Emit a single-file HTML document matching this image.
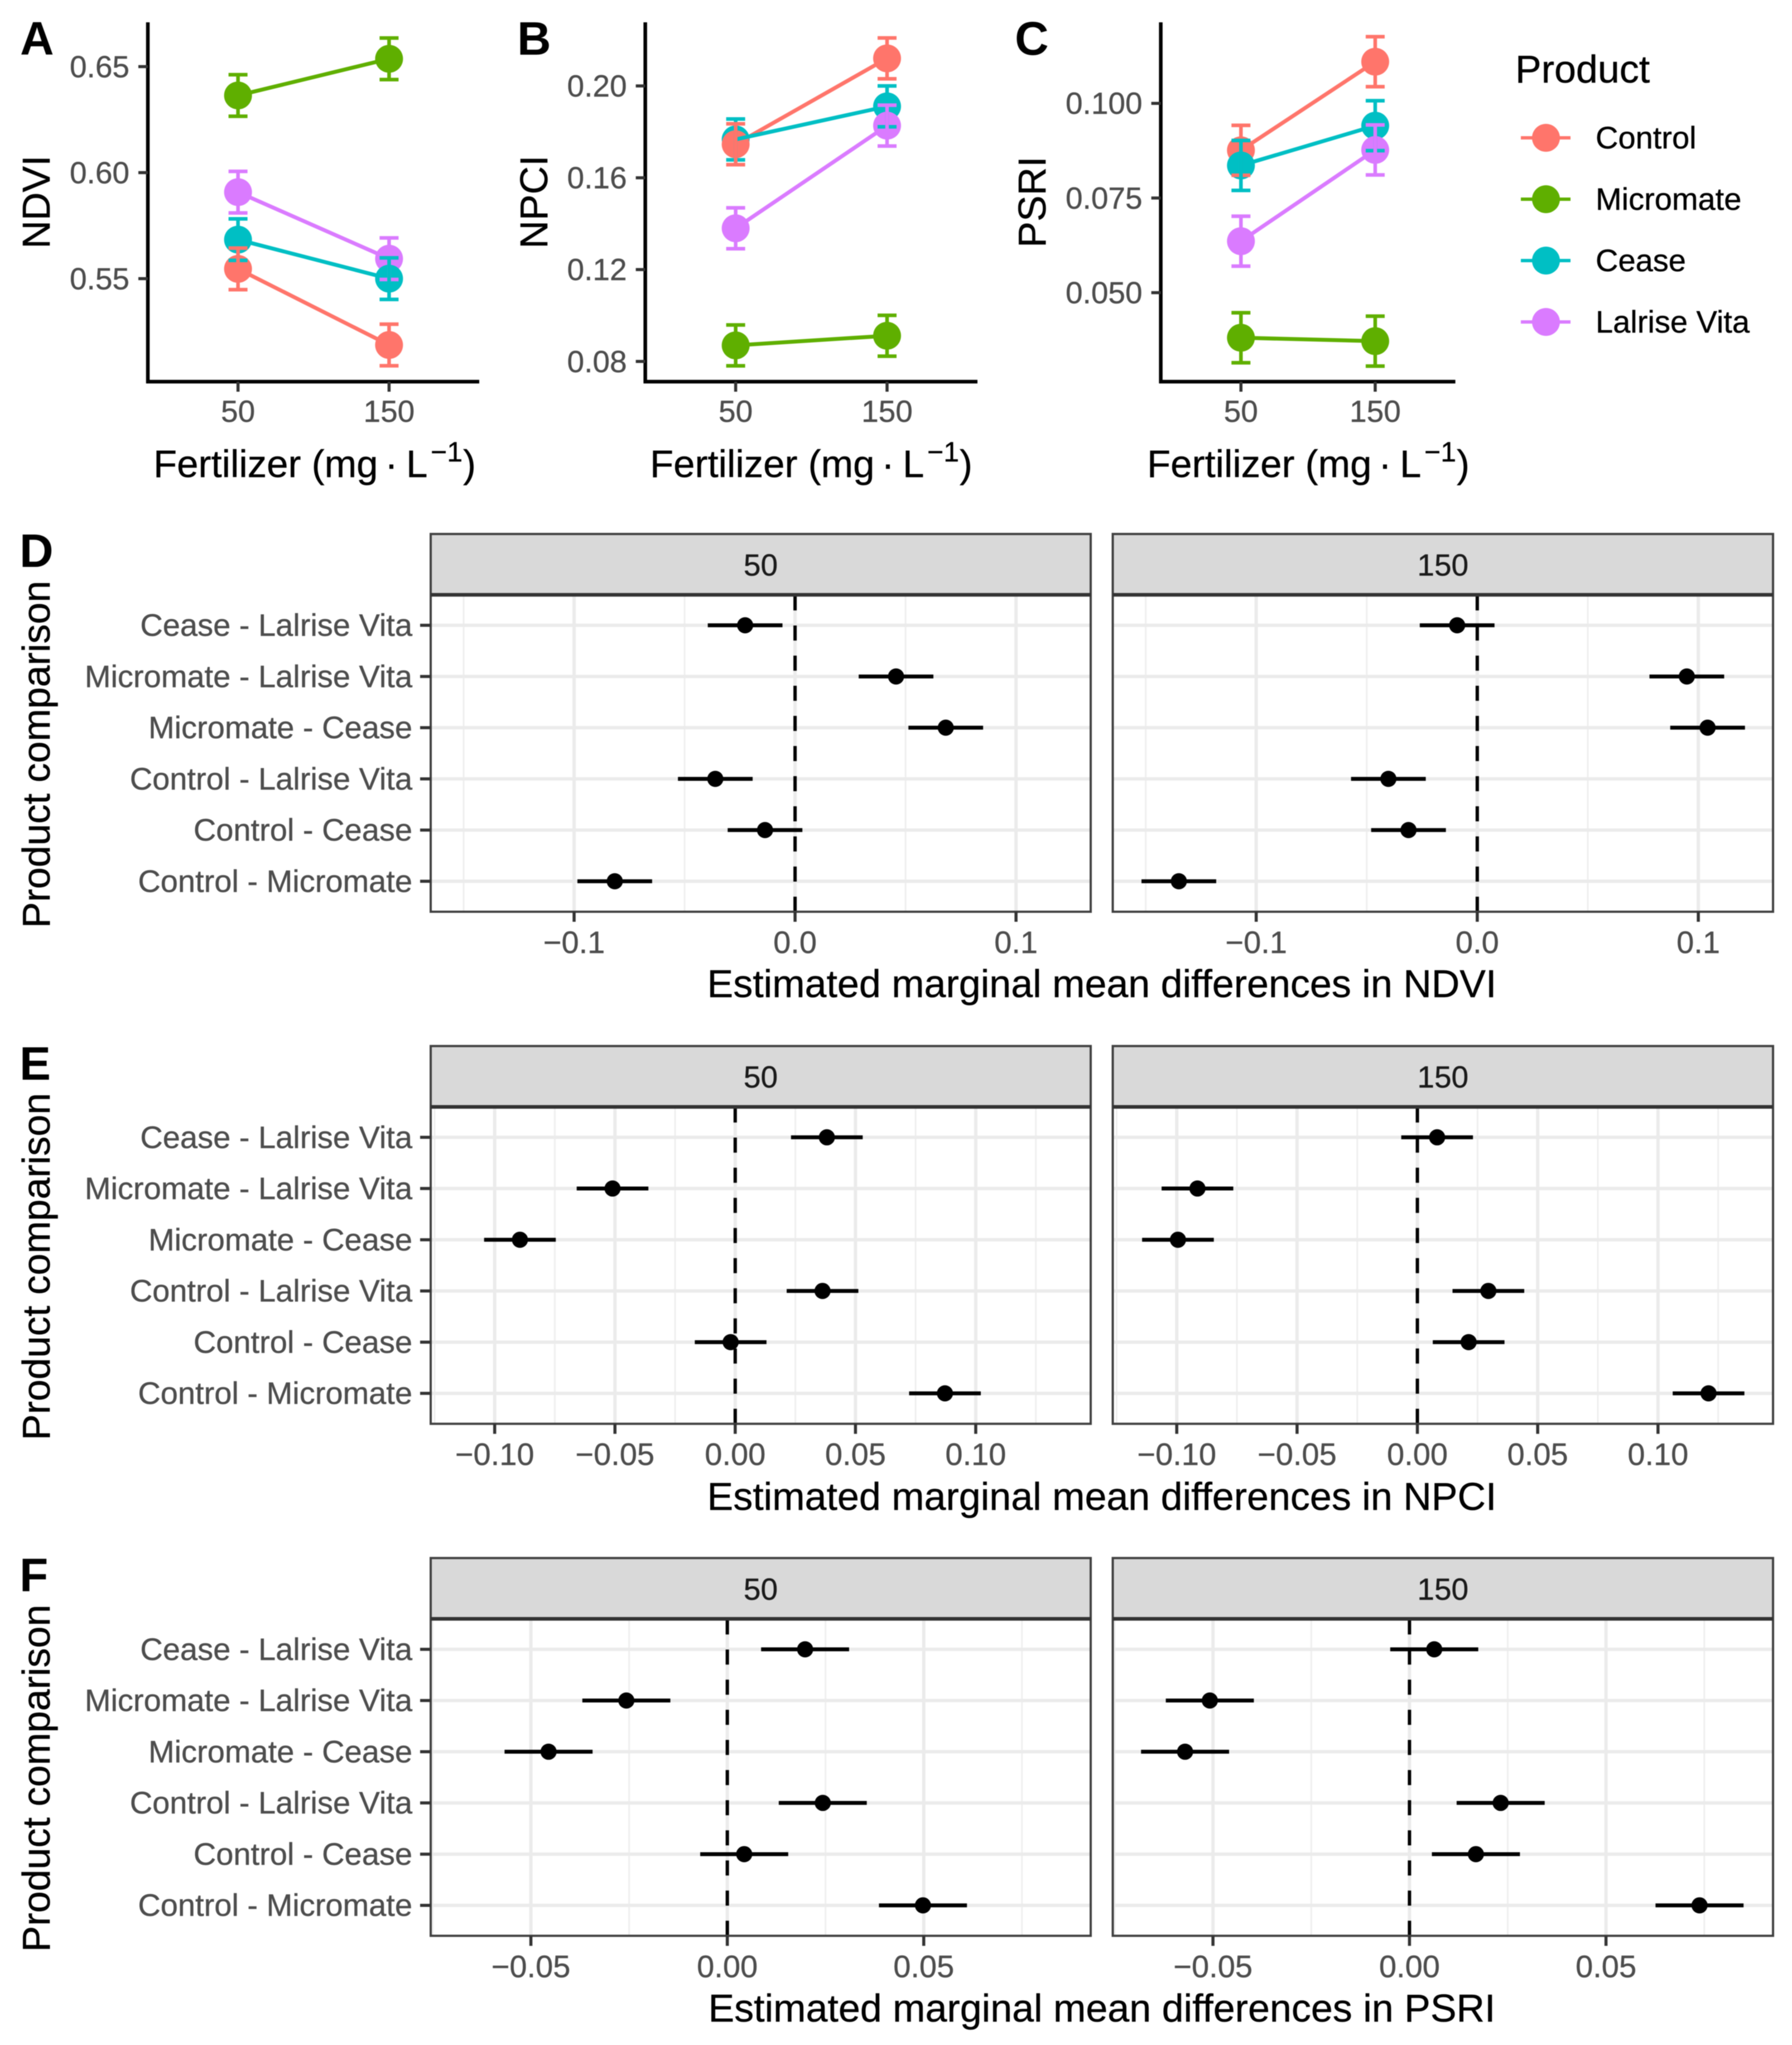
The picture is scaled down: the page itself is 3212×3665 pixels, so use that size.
<!DOCTYPE html>
<html lang="en">
<head>
<meta charset="utf-8">
<title>Fertilizer and product effects on NDVI, NPCI and PSRI</title>
<style>
html,body{margin:0;padding:0;background:#fff;}
svg{display:block;filter:blur(0.7px);}
text{font-family:"Liberation Sans",Arial,sans-serif;stroke-width:0.5px;}
.title{font-size:70px;fill:#000;stroke:#000;}
.fert{font-size:69px;fill:#000;stroke:#000;}
.letter{font-size:84px;font-weight:bold;fill:#000;}
.tick{font-size:56px;fill:#4d4d4d;stroke:#4d4d4d;}
.tick-top{font-size:55px;fill:#4d4d4d;stroke:#4d4d4d;}
.legend{font-size:56px;fill:#000;stroke:#000;}
.strip{font-size:55px;fill:#1a1a1a;stroke:#1a1a1a;}
</style>
</head>
<body>
<svg id="figure" xmlns="http://www.w3.org/2000/svg" width="3212" height="3665" viewBox="0 0 3212 3665">
<rect x="0" y="0" width="3212" height="3665" fill="#fff"/>

<text class="letter" x="36" y="98">A</text>
<text class="letter" x="927" y="98">B</text>
<text class="letter" x="1819" y="98">C</text>
<text class="letter" x="35" y="1016">D</text>
<text class="letter" x="35" y="1935">E</text>
<text class="letter" x="35" y="2852">F</text>

<text class="title" text-anchor="middle" transform="translate(89 362) rotate(-90)">NDVI</text>
<text class="title" text-anchor="middle" transform="translate(981 362) rotate(-90)">NPCI</text>
<text class="title" text-anchor="middle" transform="translate(1874 362) rotate(-90)">PSRI</text>

<text class="fert" x="275" y="855">Fertilizer (mg<tspan x="690">·</tspan><tspan x="728">L</tspan><tspan x="772" font-size="50" dy="-28">−1</tspan><tspan x="830" dy="28">)</tspan></text>
<text class="fert" x="1165" y="855">Fertilizer (mg<tspan x="1580">·</tspan><tspan x="1618">L</tspan><tspan x="1662" font-size="50" dy="-28">−1</tspan><tspan x="1720" dy="28">)</tspan></text>
<text class="fert" x="2056" y="855">Fertilizer (mg<tspan x="2471">·</tspan><tspan x="2509">L</tspan><tspan x="2553" font-size="50" dy="-28">−1</tspan><tspan x="2611" dy="28">)</tspan></text>

<text class="title" text-anchor="middle" transform="translate(89 1352) rotate(-90)">Product comparison</text>
<text class="title" text-anchor="middle" transform="translate(89 2270) rotate(-90)">Product comparison</text>
<text class="title" text-anchor="middle" transform="translate(89 3187) rotate(-90)">Product comparison</text>

<text class="title" text-anchor="middle" x="1975" y="1787">Estimated marginal mean differences in NDVI</text>
<text class="title" text-anchor="middle" x="1975" y="2706">Estimated marginal mean differences in NPCI</text>
<text class="title" text-anchor="middle" x="1975" y="3623">Estimated marginal mean differences in PSRI</text>

<g id="legend">
  <text class="legend" x="2716" y="148" style="font-size:70px">Product</text>
  <g>
    <line x1="2726" x2="2815" y1="247" y2="247" stroke="#FF756B" stroke-width="6"/>
    <circle cx="2771" cy="247" r="25" fill="#FF756B"/>
    <text class="legend" x="2860" y="266">Control</text>
  </g>
  <g>
    <line x1="2726" x2="2815" y1="357" y2="357" stroke="#5FAF00" stroke-width="6"/>
    <circle cx="2771" cy="357" r="25" fill="#5FAF00"/>
    <text class="legend" x="2860" y="376">Micromate</text>
  </g>
  <g>
    <line x1="2726" x2="2815" y1="467" y2="467" stroke="#00BFC4" stroke-width="6"/>
    <circle cx="2771" cy="467" r="25" fill="#00BFC4"/>
    <text class="legend" x="2860" y="486">Cease</text>
  </g>
  <g>
    <line x1="2726" x2="2815" y1="577" y2="577" stroke="#DA7BFF" stroke-width="6"/>
    <circle cx="2771" cy="577" r="25" fill="#DA7BFF"/>
    <text class="legend" x="2860" y="596">Lalrise Vita</text>
  </g>
</g>
<g id="charts"></g>
</svg>

<script>
// ---------- Top row data: interaction plots ----------
const fertilizerLevels = ["50", "150"];
const productNames = ["Control", "Micromate", "Cease", "Lalrise Vita"];
const productColors = ["#FF756B", "#5FAF00", "#00BFC4", "#DA7BFF"];

const ndviControl = [0.5546, 0.5187];
const ndviMicromate = [0.6364, 0.6537];
const ndviCease = [0.5684, 0.5500];
const ndviLalrise = [0.5908, 0.5594];
const ndviHalfCI = 0.0098;
const ndviTicks = [0.55, 0.60, 0.65];
const ndviTickLabels = ["0.55", "0.60", "0.65"];
const ndviDomain = [0.5014, 0.6709];

const npciControl = [0.1746, 0.2120];
const npciMicromate = [0.0870, 0.0912];
const npciCease = [0.1767, 0.1911];
const npciLalrise = [0.1380, 0.1827];
const npciHalfCI = 0.0089;
const npciTicks = [0.08, 0.12, 0.16, 0.20];
const npciTickLabels = ["0.08", "0.12", "0.16", "0.20"];
const npciDomain = [0.0712, 0.2277];

const psriControl = [0.0876, 0.1110];
const psriMicromate = [0.0381, 0.0372];
const psriCease = [0.0836, 0.0941];
const psriLalrise = [0.0636, 0.0877];
const psriHalfCI = 0.0066;
const psriTicks = [0.050, 0.075, 0.100];
const psriTickLabels = ["0.050", "0.075", "0.100"];
const psriDomain = [0.0265, 0.1214];

const fertilizerDomain = [-0.597, 1.597];

// ---------- Forest plot data: product comparisons (top row first) ----------
const comparisons = ["Cease - Lalrise Vita", "Micromate - Lalrise Vita", "Micromate - Cease", "Control - Lalrise Vita", "Control - Cease", "Control - Micromate"];

const ndviDiff50 = [-0.0226, 0.0457, 0.0682, -0.0361, -0.0136, -0.0816];
const ndviDiff150 = [-0.0091, 0.0948, 0.1042, -0.0402, -0.0311, -0.1350];
const ndviDiffHalfCI = 0.0169;
const ndviDiffTicks = [-0.1, 0, 0.1];
const ndviDiffTickLabels = ["−0.1", "0.0", "0.1"];
const ndviDiffDomain = [-0.1649, 0.1338];

const npciDiff50 = [0.0381, -0.0510, -0.0895, 0.0363, -0.0019, 0.0872];
const npciDiff150 = [0.0082, -0.0914, -0.0995, 0.0295, 0.0213, 0.1210];
const npciDiffHalfCI = 0.0149;
const npciDiffTicks = [-0.10, -0.05, 0, 0.05, 0.10];
const npciDiffTickLabels = ["−0.10", "−0.05", "0.00", "0.05", "0.10"];
const npciDiffDomain = [-0.1266, 0.1478];

const psriDiff50 = [0.0198, -0.0257, -0.0455, 0.0243, 0.0043, 0.0498];
const psriDiff150 = [0.0063, -0.0508, -0.0571, 0.0232, 0.0169, 0.0738];
const psriDiffHalfCI = 0.0112;
const psriDiffTicks = [-0.05, 0, 0.05];
const psriDiffTickLabels = ["−0.05", "0.00", "0.05"];
const psriDiffDomain = [-0.0755, 0.0925];

// ---------- Helpers ----------
const SVG_NS = "http://www.w3.org/2000/svg";
const root = document.getElementById("charts");

function mk(parent, tag, attrs, content) {
  const el = document.createElementNS(SVG_NS, tag);
  for (const key in attrs) el.setAttribute(key, attrs[key]);
  if (content !== undefined) el.textContent = content;
  parent.appendChild(el);
  return el;
}
function linear(domain, range) {
  return function (v) {
    return range[0] + (v - domain[0]) / (domain[1] - domain[0]) * (range[1] - range[0]);
  };
}

// ---------- Interaction plot ----------
function drawInteraction(id, seriesList, halfCI, yDomain, yTicks, yLabels, left, right) {
  const top = 40, bottom = 684;
  const x = linear(fertilizerDomain, [left, right]);
  const y = linear(yDomain, [bottom, top]);
  const g = mk(root, "g", {});
  
  

  // axis lines
  const yAxis = mk(g, "line", {x1: left, x2: left, y1: top, y2: bottom + 3, stroke: "#000", "stroke-width": 6.5});
  
  
  const xAxis = mk(g, "line", {x1: left - 3, x2: right, y1: bottom, y2: bottom, stroke: "#000", "stroke-width": 6.5});
  
  

  // y ticks
  yTicks.forEach(function (t, i) {
    const tick = mk(g, "line", {x1: left - 17, x2: left, y1: y(t), y2: y(t), stroke: "#333", "stroke-width": 5.5});
    
    
    const label = mk(g, "text", {class: "tick-top", x: left - 33, y: y(t) + 19, "text-anchor": "end"}, yLabels[i]);
    
    
  });

  // x ticks
  fertilizerLevels.forEach(function (level, i) {
    const tick = mk(g, "line", {x1: x(i), x2: x(i), y1: bottom, y2: bottom + 18, stroke: "#333", "stroke-width": 5.5});
    
    
    const label = mk(g, "text", {class: "tick-top", x: x(i), y: 756, "text-anchor": "middle"}, level);
    
    
  });

  // points: at each level the lower mean is painted last
  fertilizerLevels.forEach(function (level, i) {
    const order = seriesList.map(function (s, k) { return k; }).sort(function (a, b) { return seriesList[b][i] - seriesList[a][i]; });
    order.forEach(function (k) {
      const pt = mk(g, "circle", {cx: x(i), cy: y(seriesList[k][i]), r: 25, fill: productColors[k]});
      
      
    });
  });

  // connecting lines
  seriesList.forEach(function (values, k) {
    const pts = values.map(function (v, i) { return x(i) + "," + y(v); }).join(" ");
    const ln = mk(g, "polyline", {points: pts, fill: "none", stroke: productColors[k], "stroke-width": 7});
    
    
  });

  // error bars
  fertilizerLevels.forEach(function (level, i) {
    const order = seriesList.map(function (s, k) { return k; }).sort(function (a, b) { return seriesList[b][i] - seriesList[a][i]; });
    order.forEach(function (k) {
      const v = seriesList[k][i];
      const cx = x(i), hi = y(v + halfCI), lo = y(v - halfCI), col = productColors[k];
      const path = "M" + (cx - 17) + " " + hi + "H" + (cx + 17) + "M" + cx + " " + hi + "V" + lo + "M" + (cx - 17) + " " + lo + "H" + (cx + 17);
      const bar = mk(g, "path", {d: path, fill: "none", stroke: col, "stroke-width": 6.5});
      
      
    });
  });
}

// ---------- Forest plot facet ----------
function drawFacet(id, facetLabel, values, halfCI, xDomain, xTicks, xLabels, left, right, base, showY) {
  const stripBottom = base + 109, bottom = base + 677;
  const x = linear(xDomain, [left, right]);
  const rowStep = 568 / 6.19;
  const y = function (i) { return stripBottom + (i + 0.595) * rowStep; };
  const g = mk(root, "g", {});
  
  

  // panel background
  const bg = mk(g, "rect", {x: left, y: stripBottom, width: right - left, height: bottom - stripBottom, fill: "#fff"});
  
  

  // minor grid: midpoints between ticks and one step beyond each end
  const step = xTicks[1] - xTicks[0];
  for (let k = -1; k < xTicks.length; k++) {
    const m = xTicks[0] + (k + 0.5) * step;
    if (m > xDomain[0] && m < xDomain[1]) {
      const gl = mk(g, "line", {x1: x(m), x2: x(m), y1: stripBottom, y2: bottom, stroke: "#efefef", "stroke-width": 3});
      
      
    }
  }
  // major grid
  xTicks.forEach(function (t) {
    const gl = mk(g, "line", {x1: x(t), x2: x(t), y1: stripBottom, y2: bottom, stroke: "#ebebeb", "stroke-width": 6});
    
    
  });
  comparisons.forEach(function (c, i) {
    const gl = mk(g, "line", {x1: left, x2: right, y1: y(i), y2: y(i), stroke: "#ebebeb", "stroke-width": 6});
    
    
  });

  // zero reference, dashes start at the panel bottom
  const zero = mk(g, "line", {x1: x(0), x2: x(0), y1: bottom, y2: stripBottom, stroke: "#000", "stroke-width": 6, "stroke-dasharray": "27 27"});
  
  

  // confidence intervals and estimates
  values.forEach(function (v, i) {
    const ci = mk(g, "line", {x1: x(v - halfCI), x2: x(v + halfCI), y1: y(i), y2: y(i), stroke: "#000", "stroke-width": 7});
    
    
    const pt = mk(g, "circle", {cx: x(v), cy: y(i), r: 14.5, fill: "#000"});
    
    
  });

  // panel border
  const border = mk(g, "rect", {x: left, y: stripBottom, width: right - left, height: bottom - stripBottom, fill: "none", stroke: "#404040", "stroke-width": 4});
  
  

  // strip
  const strip = mk(g, "rect", {x: left, y: base, width: right - left, height: 109, fill: "#d9d9d9", stroke: "#404040", "stroke-width": 4});
  
  
  const stripLine = mk(g, "line", {x1: left, x2: right, y1: stripBottom, y2: stripBottom, stroke: "#333", "stroke-width": 6.5});
  
  
  const stripText = mk(g, "text", {class: "strip", x: (left + right) / 2, y: base + 74.5, "text-anchor": "middle"}, facetLabel);
  
  

  // x ticks
  xTicks.forEach(function (t, i) {
    const tick = mk(g, "line", {x1: x(t), x2: x(t), y1: bottom, y2: bottom + 18, stroke: "#333", "stroke-width": 5.5});
    
    
    const label = mk(g, "text", {class: "tick", x: x(t), y: base + 751, "text-anchor": "middle"}, xLabels[i]);
    
    
  });

  // y ticks and labels on the left facet only
  if (showY) {
    comparisons.forEach(function (c, i) {
      const tick = mk(g, "line", {x1: left - 19, x2: left, y1: y(i), y2: y(i), stroke: "#333", "stroke-width": 5.5});
      
      
      const label = mk(g, "text", {class: "tick", x: 739, y: y(i) + 19, "text-anchor": "end"}, c);
      
      
    });
  }
}

// ---------- Render ----------
drawInteraction("ndvi", [ndviControl, ndviMicromate, ndviCease, ndviLalrise], ndviHalfCI, ndviDomain, ndviTicks, ndviTickLabels, 265, 859);
drawInteraction("npci", [npciControl, npciMicromate, npciCease, npciLalrise], npciHalfCI, npciDomain, npciTicks, npciTickLabels, 1156.6, 1752);
drawInteraction("psri", [psriControl, psriMicromate, psriCease, psriLalrise], psriHalfCI, psriDomain, psriTicks, psriTickLabels, 2080.6, 2608.6);

drawFacet("ndvi-50", "50", ndviDiff50, ndviDiffHalfCI, ndviDiffDomain, ndviDiffTicks, ndviDiffTickLabels, 772, 1955, 957, true);
drawFacet("ndvi-150", "150", ndviDiff150, ndviDiffHalfCI, ndviDiffDomain, ndviDiffTicks, ndviDiffTickLabels, 1994.5, 3178, 957, false);
drawFacet("npci-50", "50", npciDiff50, npciDiffHalfCI, npciDiffDomain, npciDiffTicks, npciDiffTickLabels, 772, 1955, 1874.7, true);
drawFacet("npci-150", "150", npciDiff150, npciDiffHalfCI, npciDiffDomain, npciDiffTicks, npciDiffTickLabels, 1994.5, 3178, 1874.7, false);
drawFacet("psri-50", "50", psriDiff50, psriDiffHalfCI, psriDiffDomain, psriDiffTicks, psriDiffTickLabels, 772, 1955, 2792.3, true);
drawFacet("psri-150", "150", psriDiff150, psriDiffHalfCI, psriDiffDomain, psriDiffTicks, psriDiffTickLabels, 1994.5, 3178, 2792.3, false);
</script>
</body>
</html>
